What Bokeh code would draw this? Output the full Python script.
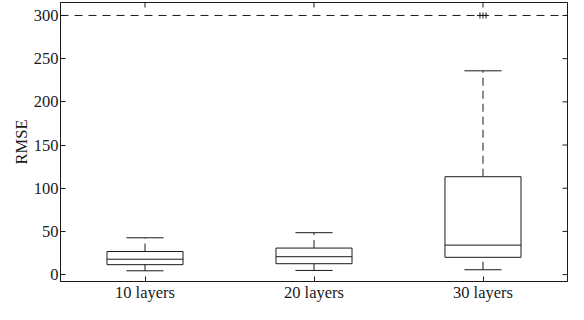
from bokeh.plotting import figure
from bokeh.models import FactorRange, Range1d, LinearAxis, CategoricalAxis, Span, FixedTicker, ColumnDataSource
from bokeh.transform import dodge
from bokeh.embed import file_html
from bokeh.resources import INLINE

# Data
categories = ["10 layers", "20 layers", "30 layers"]
lower_whisker = [4.4, 4.8, 5.6]
q1 = [11.5, 12.6, 20.0]
median = [17.8, 20.7, 34.1]
q3 = [26.7, 30.7, 113.3]
upper_whisker = [42.6, 48.5, 235.9]
outlier_cat = ["30 layers", "30 layers", "30 layers"]
outlier_vals = [300, 300, 300]
threshold = 300
y_ticks = [0, 50, 100, 150, 200, 250, 300]

FONT = "Liberation Serif"
FS = "16.5px"
LC = "#1a1a1a"

src = ColumnDataSource(dict(cat=categories, lo=lower_whisker, q1=q1, med=median,
                            q3=q3, hi=upper_whisker))

p = figure(width=568, height=304, output_backend="svg", toolbar_location=None,
           x_range=FactorRange(factors=categories, range_padding=0),
           y_range=Range1d(-8, 315),
           min_border_left=60, min_border_right=1, min_border_top=2, min_border_bottom=0,
           x_axis_location=None, y_axis_location=None)
p.grid.visible = False
p.outline_line_color = LC
p.background_fill_color = "white"
p.border_fill_color = "white"

def style_axis(ax):
    ax.axis_line_color = LC
    ax.major_tick_line_color = LC
    ax.major_tick_in = 5
    ax.major_tick_out = 0
    ax.minor_tick_line_color = None
    ax.major_label_text_font = FONT
    ax.major_label_text_font_size = FS
    ax.major_label_text_color = "#1a1a1a"
    ax.major_label_standoff = 0
    ax.axis_label_standoff = 0

yl = LinearAxis(ticker=FixedTicker(ticks=y_ticks), axis_label="RMSE")
style_axis(yl)
yl.major_label_standoff = 2
yl.axis_label_text_font = FONT
yl.axis_label_text_font_size = FS
yl.axis_label_text_font_style = "normal"
yl.axis_label_text_color = "#1a1a1a"
yl.axis_label_standoff = 0
p.add_layout(yl, "left")

xb = CategoricalAxis()
style_axis(xb)
xb.major_label_standoff = 1
p.add_layout(xb, "below")

# threshold line
p.add_layout(Span(location=threshold, dimension="width", line_color=LC,
                  line_width=1, line_dash="8 6"))

BOX_HALF = 0.225
CAP_HALF = 0.11
xr = p.x_range

# mirrored ticks on top and right (glyphs clipped to frame -> half shows inside)
tsrc = ColumnDataSource(dict(cat=categories, y=[p.y_range.end] * len(categories)))
p.scatter(x="cat", y="y", source=tsrc, marker="dash", angle=1.5708, size=10,
          line_color=LC, line_width=1)
rsrc = ColumnDataSource(dict(cat=[categories[-1]] * len(y_ticks), y=y_ticks))
p.scatter(x=dodge("cat", 0.5, range=xr), y="y", source=rsrc, marker="dash", size=10,
          line_color=LC, line_width=1)

# whiskers (dashed)
p.segment(x0="cat", x1="cat", y0="q3", y1="hi", source=src, line_color=LC, line_width=1, line_dash="8 5")
p.segment(x0="cat", x1="cat", y0="lo", y1="q1", source=src, line_color=LC, line_width=1, line_dash="8 5")
# caps
p.segment(x0=dodge("cat", -CAP_HALF, range=xr), x1=dodge("cat", CAP_HALF, range=xr),
          y0="hi", y1="hi", source=src, line_color=LC, line_width=1)
p.segment(x0=dodge("cat", -CAP_HALF, range=xr), x1=dodge("cat", CAP_HALF, range=xr),
          y0="lo", y1="lo", source=src, line_color=LC, line_width=1)
# boxes
p.vbar(x="cat", width=2 * BOX_HALF, bottom="q1", top="q3", source=src,
       fill_color="white", line_color=LC, line_width=1)
# medians
p.segment(x0=dodge("cat", -BOX_HALF, range=xr), x1=dodge("cat", BOX_HALF, range=xr),
          y0="med", y1="med", source=src, line_color=LC, line_width=1)

# outliers
for i, (c, v) in enumerate(zip(outlier_cat, outlier_vals)):
    off = (i - 1) * 0.018
    osrc = ColumnDataSource(dict(cat=[c], val=[v]))
    p.scatter(x=dodge("cat", off, range=xr), y="val", source=osrc, marker="cross",
              size=6, line_color=LC, line_width=1)

open("out.html", "w").write(file_html(p, INLINE))
